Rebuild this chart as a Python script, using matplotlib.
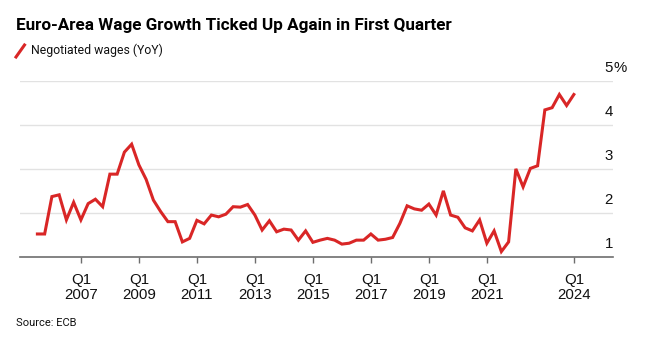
import numpy as np
import pandas as pd
import matplotlib
matplotlib.use("Agg")
import matplotlib.pyplot as plt
from matplotlib.lines import Line2D

plt.rcParams['font.family'] = ['Liberation Sans', 'DejaVu Sans']
CONDENSED = ['Roboto', 'Liberation Sans', 'DejaVu Sans']

# Quarterly negotiated wage growth (YoY, %), 2005 Q3 .. 2024 Q1
quarters = pd.period_range("2005Q3", "2024Q1", freq="Q")
wages = [1.53, 1.53, 2.38, 2.42, 1.85, 2.25, 1.85, 2.22, 2.32, 2.15,
         2.89, 2.89, 3.39, 3.57, 3.10, 2.77, 2.30, 2.04, 1.81, 1.81,
         1.35, 1.43, 1.84, 1.76, 1.96, 1.92, 1.98, 2.15, 2.14, 2.20,
         1.96, 1.62, 1.83, 1.58, 1.64, 1.62, 1.39, 1.60, 1.34, 1.39,
         1.43, 1.39, 1.30, 1.32, 1.39, 1.39, 1.53, 1.39, 1.41, 1.45,
         1.77, 2.17, 2.10, 2.07, 2.21, 1.96, 2.51, 1.96, 1.91, 1.67,
         1.60, 1.85, 1.32, 1.60, 1.13, 1.35, 3.01, 2.60, 3.02, 3.08,
         4.35, 4.40, 4.70, 4.45, 4.70]

tick_years = [2007, 2009, 2011, 2013, 2015, 2017, 2019, 2021, 2024]
y_ticks = [1, 2, 3, 4, 5]

red = "#d92626"
W, H = 664, 352

fig = plt.figure(figsize=(W / 100, H / 100), dpi=100)
ax = fig.add_axes([20 / W, 1 - 257.3 / H, (613 - 20) / W, (257.3 - 81.3) / H])

x = quarters.year + (quarters.quarter - 1) / 4
ax.plot(x, wages, color=red, lw=2.2, solid_joinstyle="miter", zorder=3)

ax.set_xlim(2004.9, 2025.35)
ax.set_ylim(1, 5)

# gridlines
for v in y_ticks[1:]:
    ax.axhline(v, color="#e2e2e2", lw=1.0, zorder=1)
for s in ["top", "right", "left"]:
    ax.spines[s].set_visible(False)
ax.spines["bottom"].set_color("#6e6e6e")
ax.spines["bottom"].set_linewidth(1.2)

ax.set_yticks([])
ax.set_xticks(tick_years, [f"Q1\n{y}" for y in tick_years])
ax.tick_params(axis="x", length=4.5, width=1, color="#6e6e6e", pad=6.5,
               labelsize=10.8, labelcolor="#111111")
for lab in ax.get_xticklabels():
    lab.set_linespacing(1.12)

# right-side value labels sit just above their gridline, "%" hangs past the edge
for v in y_ticks:
    ax.text(1.0, v + 0.31, str(v), transform=ax.get_yaxis_transform(),
            ha="right", va="center", fontsize=10.8, color="#111111", clip_on=False)
ax.text(1.0, y_ticks[-1] + 0.31, "%", transform=ax.get_yaxis_transform(),
        ha="left", va="center", fontsize=10.8, color="#111111", clip_on=False)

fig.text(16 / W, 1 - 25.5 / H, "Euro-Area Wage Growth Ticked Up Again in First Quarter",
         fontsize=12.3, fontweight="bold", ha="left", va="center", color="#000000",
         family=CONDENSED)
fig.add_artist(Line2D([16 / W, 24.5 / W], [1 - 57 / H, 1 - 45 / H], color=red, lw=2.2,
                      transform=fig.transFigure))
fig.text(31 / W, 1 - 50.5 / H, "Negotiated wages (YoY)", fontsize=8.8,
         ha="left", va="center", color="#111111", family=CONDENSED)
fig.text(16 / W, 1 - 323.5 / H, "Source: ECB", fontsize=8, ha="left", va="center",
         color="#111111", family=CONDENSED)

fig.savefig("out.png", dpi=100)
